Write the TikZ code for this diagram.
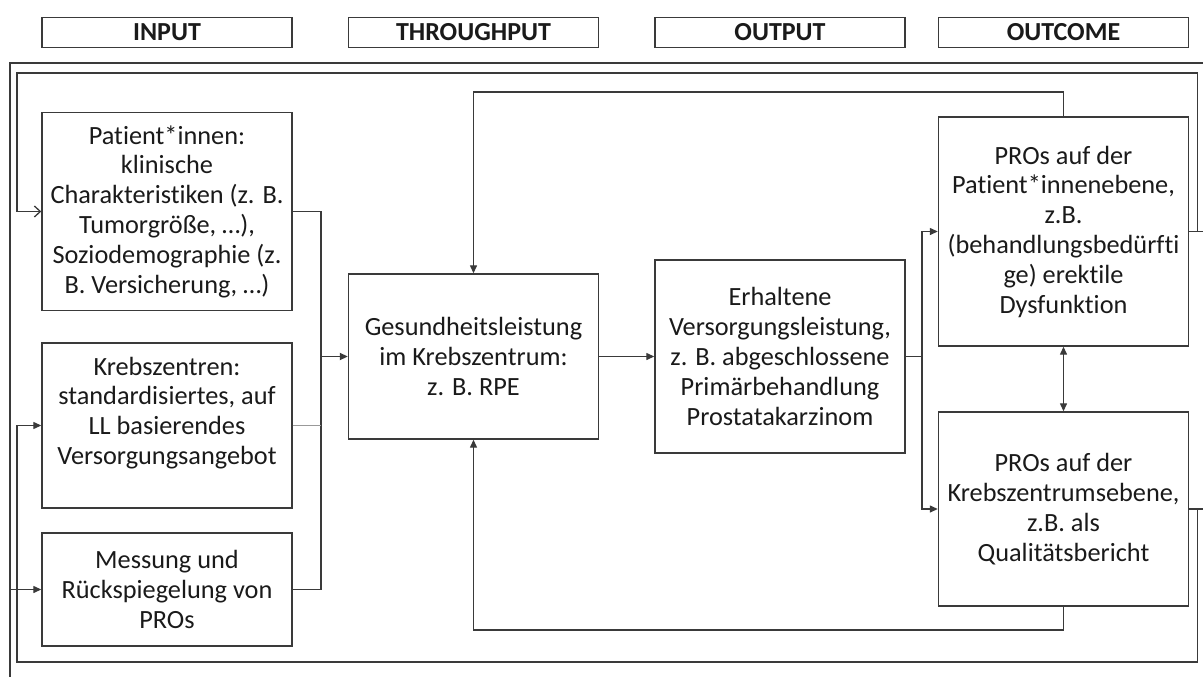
\documentclass[tikz,border=0pt]{standalone}
\usepackage{fontspec}
\setmainfont{Carlito}[RawFeature={-liga;-clig;-calt;-dlig}]
\usetikzlibrary{arrows.meta}
\definecolor{linec}{HTML}{3A3A3A}
\definecolor{textc}{HTML}{1A1A1A}
\newcommand\bodyfnt{\fontsize{26.3}{29.8}\selectfont}
\newcommand\hdrfnt{\fontsize{26}{28}\selectfont\bfseries}
\begin{document}
\begin{tikzpicture}[x=1pt,y=-1pt,
  box/.style={draw=linec, line width=1.4pt, inner sep=0pt, align=center, font=\bodyfnt, text=textc, minimum width=250pt},
  hdr/.style={draw=linec, line width=1.6pt, inner sep=0pt, minimum width=250pt, minimum height=30pt, font=\hdrfnt, text=textc},
  conn/.style={draw=linec, line width=1.3pt},
  arr/.style={conn, -{Triangle[length=8pt,width=7pt]}},
  barr/.style={conn, {Triangle[length=8pt,width=7pt]}-{Triangle[length=8pt,width=7pt]}},
  oarr/.style={conn, -{Straight Barb[length=6pt,width=11pt]}}
]
\useasboundingbox (0,0) rectangle (1203,677);
\clip (0,0) rectangle (1203,677);

% headers
\node[hdr] (hin)  at (167,32.5)   {INPUT};
\node[hdr] (hth)  at (473.5,32.5) {THROUGHPUT};
\node[hdr] (hout) at (780,32.5)   {OUTPUT};
\node[hdr] (hoc)  at (1063.5,32.5){OUTCOME};

% boxes
\node[box, minimum height=198pt] (pat) at (167,211.5)
  {Pat\kern0pt ient*innen:\\klinische\\Charakterist\kern0pt iken (z. B.\\Tumorgröße, …),\\Soziodemographie (z.\\B. Versicherung, …)};
\node[box, minimum height=165pt] (kz) at (167,425.5)
  {Krebszentren:\\standardisiertes, auf\\LL basierendes\\Versorgungsangebot\\\mbox{}};
\node[box, minimum height=113pt] (mess) at (167,589.5)
  {Messung und\\Rückspiegelung von\\PROs};
\node[box, minimum height=165pt] (ges) at (473.5,356.5)
  {Gesundheitsleistung\\im Krebszentrum:\\z. B. RPE};
\node[box, minimum height=193pt] (erh) at (780,356.5)
  {Erhaltene\\Versorgungsleistung,\\z. B. abgeschlossene\\Primärbehandlung\\Prostatakarzinom};
\node[box, minimum height=229pt] (prp) at (1063.5,231.5)
  {PROs auf der\\Pat\kern0pt ient*innenebene,\\z.B.\\(behandlungsbedürf\kern0pt t\kern0pt i\\ge) erekt\kern0pt ile\\Dysfunkt\kern0pt ion};
\node[box, minimum height=194pt] (prk) at (1063.5,509)
  {PROs auf der\\Krebszentrumsebene,\\z.B. als\\Qualitätsbericht};

% helper coordinates
\coordinate (j)  at (321,356.5);
\coordinate (j2) at (922,356.5);
\coordinate (t1) at (1063.5,92);
\coordinate (b1) at (1063.5,630);
\coordinate (r1) at (1197.5,73);
\coordinate (l1) at (17,73);
\coordinate (r2) at (1197.5,662);
\coordinate (l2) at (17,662);
\coordinate (ea) at (1210,231.5);
\coordinate (eb) at (1210,509);
\coordinate (o1) at (1210,63);
\coordinate (o2) at (10,63);
\coordinate (o3) at (10,690);

% input junction
\draw[conn] (pat.east) -| (j);
\draw[conn] (mess.east) -| (j);
\draw[draw=black!40, line width=1.1pt] (kz.east) -- (kz.east -| j);
\draw[arr, line width=1.9pt] (j) -- (ges.west);

% main flow
\draw[arr] (ges.east) -- (erh.west);
\draw[conn] (erh.east) -- (j2);
\draw[arr] (j2) |- (prp.west);
\draw[arr] (j2) |- (prk.west);
\draw[barr] (prp.south) -- (prk.north);

% feedback to Gesundheitsleistung
\draw[arr] (prp.north) -- (t1) -| (ges.north);
\draw[arr] (prk.south) -- (b1) -| (ges.south);

% feedback loops to inputs
\draw[conn] (prp.east) -- (ea);
\draw[oarr] (r1 |- prp.east) -- (r1) -- (l1) |- (pat.west);
\draw[conn] (prk.east) -- (eb);
\draw[arr] (r2 |- prk.east) -- (r2) -- (l2) |- (kz.west);

% outer loop
\draw[conn] (o1) -- (o2) -- (o3);
\draw[arr] (o2 |- mess.west) -- (mess.west);
\end{tikzpicture}
\end{document}
